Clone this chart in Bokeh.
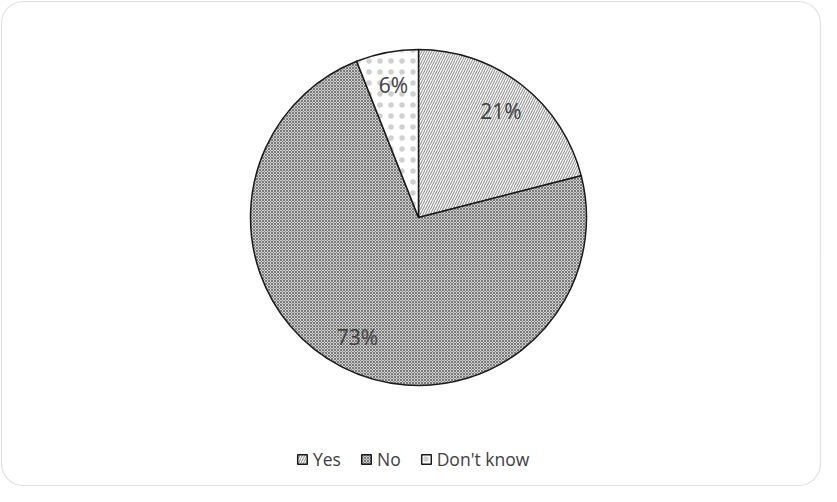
import math
from bokeh.plotting import figure
from bokeh.models import Range1d, Legend, LegendItem, BoxAnnotation, ColumnDataSource
from bokeh.core.properties import value
from bokeh.embed import file_html
from bokeh.resources import INLINE

categories = ["Yes", "No", "Don't know"]
percents = [21, 73, 6]
labels = ["21%", "73%", "6%"]

W, H = 821, 486
p = figure(width=W, height=H, output_backend="svg", toolbar_location=None,
           x_range=Range1d(0, W), y_range=Range1d(0, H), min_border=0)
p.axis.visible = False
p.grid.visible = False
p.outline_line_color = None
p.background_fill_color = "white"
p.border_fill_color = "white"

# rounded chart border
p.add_layout(BoxAnnotation(left=1, right=W - 1, top=H - 1, bottom=1,
                           fill_color=None, line_color="#9a9a9a", line_width=1.2,
                           border_radius=22))

cx, cy, R = 418, 269, 168
total = sum(percents)
fills = ["white", "#d0d0d0", "white"]
hatches = ["/", "x", "."]
hcolors = ["#959595", "#7a7a7a", "#d0d0d0"]
hscales = [5.0, 3.0, 11.0]
hweights = [1.1, 1.0, 0.5]

renderers = []
cum = 0.0
lx, ly = [], []
for i, (cat, v) in enumerate(zip(categories, percents)):
    c0 = cum / total
    cum += v
    c1 = cum / total
    start = math.pi / 2 - 2 * math.pi * c1
    end = math.pi / 2 - 2 * math.pi * c0
    r = p.wedge(x=[cx], y=[cy], radius=R, start_angle=[start], end_angle=[end],
                fill_color=fills[i], line_color="#1a1a1a", line_width=1.5,
                hatch_pattern=hatches[i], hatch_color=hcolors[i],
                hatch_scale=hscales[i], hatch_weight=hweights[i])
    renderers.append(r)
    mid = (start + end) / 2
    lx.append(cx + 0.8 * R * math.cos(mid))
    ly.append(cy + 0.8 * R * math.sin(mid))

src = ColumnDataSource(dict(x=lx, y=ly, t=labels))
p.text(x="x", y="y", text="t", source=src, text_align="center", text_baseline="middle",
       text_font=value("Open Sans"), text_font_size="21px", text_color="#404040")

legend = Legend(items=[LegendItem(label=c, renderers=[r]) for c, r in zip(categories, renderers)],
                orientation="horizontal", location=(296, 15),
                glyph_width=12, glyph_height=12, label_standoff=5, spacing=19,
                padding=0, margin=0, border_line_color=None, background_fill_alpha=0,
                label_text_font="Open Sans", label_text_font_size="17.5px",
                label_text_color="#404040")
p.add_layout(legend, "center")

open("out.html", "w").write(file_html(p, INLINE))
